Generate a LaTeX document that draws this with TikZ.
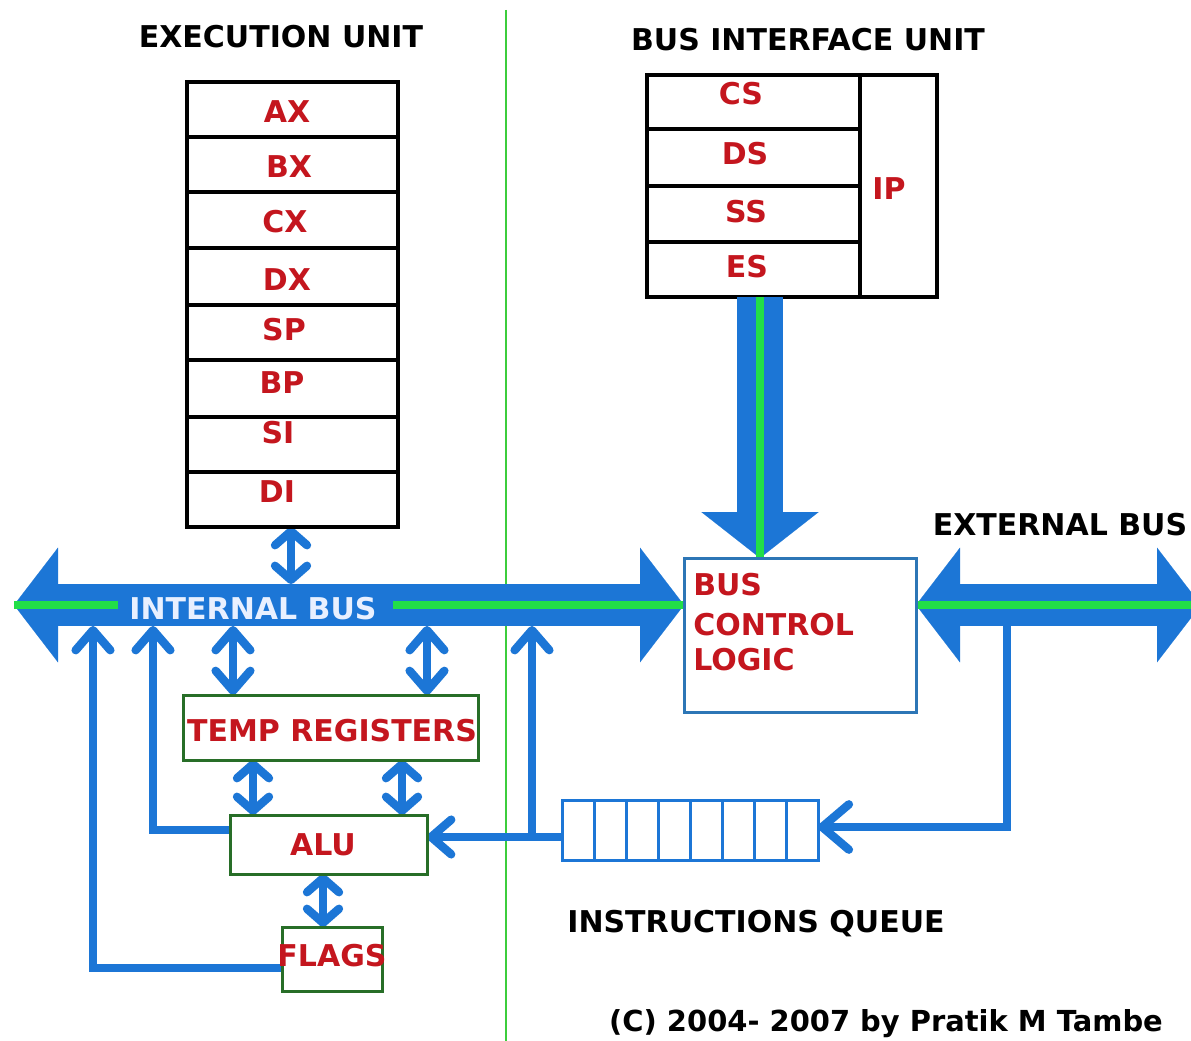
\documentclass[tikz,border=0pt]{standalone}
\usepackage{fontspec}
\setmainfont{DejaVu Sans}
\usetikzlibrary{arrows.meta}

\definecolor{busblue}{RGB}{28,118,214}
\definecolor{busgreen}{RGB}{34,222,72}
\definecolor{boxgreen}{RGB}{40,110,40}
\definecolor{lblred}{RGB}{196,22,30}
\definecolor{bclblue}{RGB}{45,118,182}
\definecolor{sepgreen}{RGB}{60,205,60}
\definecolor{bustext}{RGB}{232,240,255}

\newcommand\lblfont{\fontsize{22.5pt}{27pt}\selectfont\bfseries}
\newcommand\smallfont{\fontsize{21.7pt}{26pt}\selectfont\bfseries}

\begin{document}
\begin{tikzpicture}[x=0.75pt,y=-0.75pt,
  lbl/.style={font=\lblfont, text=lblred, inner sep=0pt, anchor=base},
  lblw/.style={font=\lblfont, text=lblred, inner sep=0pt, anchor=base west},
  title/.style={font=\lblfont, text=black, inner sep=0pt, anchor=base},
  regbox/.style={draw=black, fill=white, line width=2.6pt, inner sep=0pt, outer sep=0pt},
  eubox/.style={draw=boxgreen, fill=white, line width=2.25pt, inner sep=0pt, outer sep=0pt},
  bclbox/.style={draw=bclblue, fill=white, line width=2.25pt, inner sep=0pt, outer sep=0pt},
  qbox/.style={draw=busblue, fill=white, line width=2.25pt, inner sep=0pt, outer sep=0pt},
  fatbus/.style={busblue, line width=31.5pt},
  greenline/.style={busgreen, line width=6pt},
  conn/.style={busblue, line width=6.3pt, line join=miter,
    >={Straight Barb[length=15pt,width=26pt,round]}},
  shorttip/.style={>={Straight Barb[length=10.5pt,width=24pt,round]}},
  bigtip/.style={>={Straight Barb[length=20pt,width=34pt,round]}}
]
\useasboundingbox (0,0) rectangle (1191,1041);
\fill[white] (0,0) rectangle (1191,1041);

% reference coordinates: bus edges and connector columns
\coordinate (ibusL) at (14,605);
\coordinate (ebusR) at (1201,605);
\coordinate (bt) at (0,584);
\coordinate (bb) at (0,626);
\coordinate (qy) at (0,837);
\coordinate (qy2) at (0,827);
\coordinate (x93) at (93,0);
\coordinate (x153) at (153,0);
\coordinate (x233) at (233,0);
\coordinate (x253) at (253,0);
\coordinate (x291) at (291,0);
\coordinate (x323) at (323,0);
\coordinate (x402) at (402,0);
\coordinate (x427) at (427,0);
\coordinate (x532) at (532,0);
\coordinate (x1007) at (1007,0);
\coordinate (x118) at (118,0);
\coordinate (x393) at (393,0);
\coordinate (x760) at (760,0);

% boxes (placed first so connectors can refer to them)
\node[regbox, minimum width=158.25pt, minimum height=333.75pt] (regs) at (292.5,304.5) {};
\node[regbox, minimum width=217.5pt, minimum height=166.5pt] (biu) at (792,186) {};
\node[bclbox, minimum width=174pt, minimum height=115.5pt] (bcl) at (800,635) {};
\node[eubox, minimum width=221.25pt, minimum height=48.75pt] (temp) at (330.5,727.5) {};
\node[eubox, minimum width=147.75pt, minimum height=44.25pt] (alu) at (328.5,844.5) {};
\node[eubox, minimum width=75pt, minimum height=48pt] (flags) at (332,959) {};
\node[qbox, minimum width=192pt, minimum height=45pt] (queue) at (690,830) {};

% separator between the two units
\draw[sepgreen, line width=1.2pt] (506,10) -- (506,1041);

% wide buses
\draw[fatbus, {Triangle[length=33pt,width=86pt,line width=0.1pt]}-{Triangle[length=33pt,width=86pt,line width=0.1pt]}]
  (ibusL) -- (bcl.west |- ibusL);
\draw[fatbus, {Triangle[length=33pt,width=86pt,line width=0.1pt]}-{Triangle[length=33pt,width=86pt,line width=0.1pt]}]
  (bcl.east |- ibusL) -- (ebusR);
\draw[busblue, line width=34pt, -{Triangle[length=34.5pt,width=88pt,line width=0.1pt]}]
  (biu.south -| x760) -- (bcl.north -| x760);

% green centre lines of the buses
\draw[greenline] (ibusL) -- (x118 |- ibusL);
\draw[greenline] (x393 |- ibusL) -- (bcl.west |- ibusL);
\draw[greenline] (bcl.east |- ibusL) -- (ebusR);
\draw[greenline] (biu.south -| x760) -- (bcl.north -| x760);

% connectors
\draw[conn, shorttip, <->] (x291 |- regs.south) -- (x291 |- bt);
\draw[conn, <->] (x233 |- bb) -- (x233 |- temp.north);
\draw[conn, <->] (x427 |- bb) -- (x427 |- temp.north);
\draw[conn, shorttip, <->] (x253 |- temp.south) -- (x253 |- alu.north);
\draw[conn, shorttip, <->] (x402 |- temp.south) -- (x402 |- alu.north);
\draw[conn, shorttip, <->] (x323 |- alu.south) -- (x323 |- flags.north);
\draw[conn, ->] ([yshift=-6.75pt]flags.west) -| (x93 |- bb);
\draw[conn, ->] ([yshift=10.9pt]alu.west) -| (x153 |- bb);
\draw[conn, ->] (queue.west |- qy) -- (alu.east |- qy);
\draw[conn, ->] (x532 |- qy) -- (x532 |- bb);
\draw[conn, bigtip, ->] (x1007 |- bb) |- (queue.east |- qy2);

% box outlines drawn again above the connector ends
\node[regbox, fill=none, minimum width=158.25pt, minimum height=333.75pt] (regsF) at (regs) {};
\node[bclbox, fill=none, minimum width=174pt, minimum height=115.5pt] (bclF) at (bcl) {};
\node[eubox, fill=none, minimum width=221.25pt, minimum height=48.75pt] (tempF) at (temp) {};
\node[eubox, fill=none, minimum width=147.75pt, minimum height=44.25pt] (aluF) at (alu) {};
\node[eubox, fill=none, minimum width=75pt, minimum height=48pt] (flagsF) at (flags) {};
\node[qbox, fill=none, minimum width=192pt, minimum height=45pt] (queueF) at (queue) {};

% register rows
\foreach \yy in {137,192,248,305,360,417,472}
  \draw[black, line width=2.6pt] (regs.west |- 0,\yy) -- (regs.east |- 0,\yy);
% segment register rows and IP column
\draw[black, line width=2.6pt] (860,0 |- biu.north) -- (860,0 |- biu.south);
\foreach \yy in {129,186,242}
  \draw[black, line width=2.6pt] (biu.west |- 0,\yy) -- (860,\yy);
% queue cells
\foreach \xx in {594,626,658,690,722,754,786}
  \draw[busblue, line width=2.25pt] (\xx,0 |- queue.north) -- (\xx,0 |- queue.south);

% titles
\node[title] (tEU) at (281,48) {EXECUTION UNIT};
\node[title] (tBIU) at (808,51) {BUS INTERFACE UNIT};
\node[title] (tEB) at (1060,535) {EXTERNAL BUS};
\node[title] (tIQ) at (756,932) {INSTRUCTIONS QUEUE};
\node[title, font=\smallfont] (tC) at (886,1031) {(C) 2004- 2007 by Pratik M Tambe};

% register names
\node[lbl] (lAX) at (287,123) {AX};
\node[lbl] (lBX) at (289,178) {BX};
\node[lbl] (lCX) at (285,233) {CX};
\node[lbl] (lDX) at (287,290) {DX};
\node[lbl] (lSP) at (284,340) {SP};
\node[lbl] (lBP) at (282,393) {BP};
\node[lbl] (lSI) at (278,443) {SI};
\node[lbl] (lDI) at (277,502) {DI};
\node[lbl] (lCS) at (741,105) {CS};
\node[lbl] (lDS) at (745,165) {DS};
\node[lbl] (lSS) at (746,223) {SS};
\node[lbl] (lES) at (747,277) {ES};
\node[lbl] (lIP) at (889,200) {IP};

% unit labels
\node[lblw] (lB1) at (693,595) {BUS};
\node[lblw] (lB2) at (693,635) {CONTROL};
\node[lblw] (lB3) at (693,670) {LOGIC};
\node[lbl] (lTR) at (332,741) {TEMP REGISTERS};
\node[lbl] (lALU) at (323,855) {ALU};
\node[lbl] (lFL) at (332,966) {FLAGS};
\node[lbl, text=bustext] (lIB) at (253,619) {INTERNAL BUS};
\end{tikzpicture}
\end{document}
